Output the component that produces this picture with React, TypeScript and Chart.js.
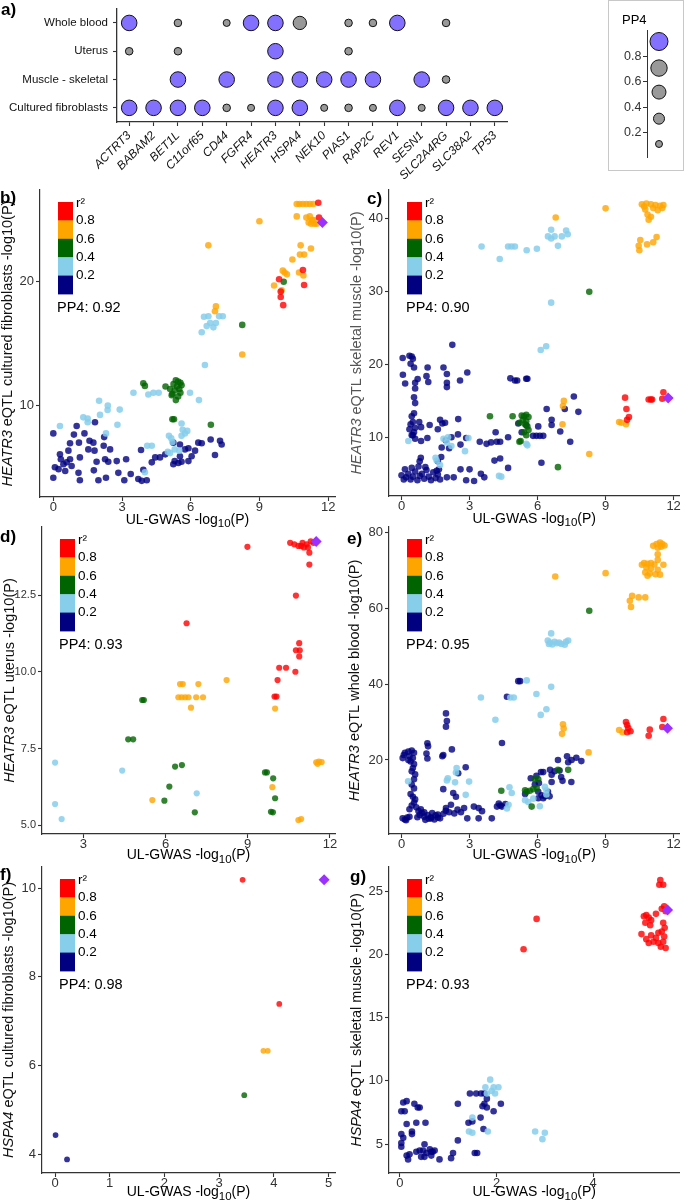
import React, { useEffect, useRef } from 'react';
import { Chart, registerables } from 'chart.js';

Chart.register(...registerables);

const FONT = 'Arial, "Liberation Sans", Helvetica, sans-serif';
Chart.defaults.font.family = FONT;
Chart.defaults.color = '#333';

type Pt = [number, number];

// ---------------- Panel a data ----------------
const genes = ['ACTRT3', 'BABAM2', 'BET1L', 'C11orf65', 'CD44', 'FGFR4', 'HEATR3', 'HSPA4', 'NEK10', 'PIAS1', 'RAP2C', 'REV1', 'SESN1', 'SLC2A4RG', 'SLC38A2', 'TP53'];
const tissues = ['Whole blood', 'Uterus', 'Muscle - skeletal', 'Cultured fibroblasts'];
const ppWholeBlood = [0.93, null, 0.27, null, 0.24, 0.93, 0.93, 0.7, null, 0.27, 0.27, 0.93, null, 0.27, null, null];
const ppUterus = [0.27, null, 0.27, null, null, null, 0.93, null, null, 0.27, null, null, null, null, null, null];
const ppMuscle = [null, null, 0.93, null, 0.93, null, 0.93, 0.93, 0.93, 0.93, 0.93, null, 0.93, 0.27, null, null];
const ppFibroblasts = [0.93, 0.93, 0.93, 0.93, 0.27, 0.24, 0.93, 0.93, 0.24, 0.27, 0.24, 0.93, 0.24, 0.93, 0.93, 0.93];
const ppRows = [ppWholeBlood, ppUterus, ppMuscle, ppFibroblasts];

// PP4 legend
const legendPP4 = [0.95, 0.8, 0.6, 0.4, 0.2];
const legendPos = [0.92, 0.71, 0.52, 0.31, 0.11];
const legendTicks = [0.2, 0.4, 0.6, 0.8];
const legendTickLabels = ['0.2', '0.4', '0.6', '0.8'];

// r2 legend
const r2Breaks = ['0.8', '0.6', '0.4', '0.2'];

// ---------------- Panel b ----------------
const bPurple: Pt[] = [[11.75, 24.8]];
const bRed: Pt[] = [[11.57, 26.4], [11.6, 25.2], [10.9, 20.95], [9.86, 20.2], [10.95, 19.73], [9.93, 19.2], [9.93, 18.76], [10.04, 18.1]];
const bOrange: Pt[] = [[10.63, 26.3], [10.75, 26.3], [10.9, 26.3], [11.05, 26.3], [11.2, 26.3], [11.35, 26.3], [9.0, 24.9], [10.63, 25.3], [11.05, 25.2], [11.2, 25.3], [11.3, 25.0], [11.15, 24.8], [11.4, 24.7], [11.25, 24.7], [11.5, 24.7], [11.35, 25.0], [6.77, 22.95], [10.8, 22.95], [11.25, 22.7], [10.77, 22.2], [10.95, 22.2], [10.44, 21.8], [10.02, 20.9], [10.1, 20.75], [10.2, 20.6], [10.73, 20.75], [10.92, 20.5], [9.64, 19.7], [9.97, 19.3], [7.1, 18.0], [7.06, 17.6], [8.25, 14.1]];
const bGreen: Pt[] = [[10.06, 20.0], [8.25, 16.5], [5.35, 12.0], [5.45, 11.9], [5.55, 11.8], [5.25, 11.7], [5.4, 11.5], [5.5, 11.3], [5.3, 11.2], [5.6, 11.6], [5.2, 10.9], [5.45, 10.7], [5.35, 10.4], [5.55, 11.0], [5.1, 11.3], [3.93, 11.76], [4.0, 11.55], [4.9, 11.5], [5.17, 10.8], [5.2, 8.85], [5.27, 8.85], [6.88, 8.4]];
const bSky: Pt[] = [[6.58, 17.16], [6.77, 17.2], [7.24, 17.2], [7.4, 17.2], [6.48, 15.9], [6.7, 16.4], [6.85, 16.65], [7.1, 16.65], [6.99, 16.3], [6.62, 13.25], [3.5, 11.0], [4.15, 10.85], [4.37, 11.0], [4.6, 11.0], [5.97, 11.0], [6.36, 10.4], [2.0, 10.35], [2.38, 9.95], [2.04, 9.2], [2.37, 9.6], [2.9, 9.63], [1.31, 9.0], [1.5, 8.9], [1.5, 8.6], [0.29, 8.3], [2.8, 8.4], [2.3, 7.7], [5.05, 7.5], [5.15, 7.3], [5.2, 7.0], [5.5, 6.3], [5.3, 6.4], [5.0, 6.2], [5.1, 6.1], [5.6, 8.5], [5.65, 8.0], [5.75, 7.7], [5.85, 7.9], [5.6, 7.5], [4.1, 6.7], [4.3, 6.7], [4.0, 4.55]];
const bNavy: Pt[] = [[0.0, 7.7], [1.02, 8.3], [1.82, 8.6], [2.22, 7.4], [1.36, 7.7], [0.9, 7.6], [0.73, 6.9], [1.12, 6.95], [1.58, 7.1], [1.75, 6.95], [1.53, 6.4], [1.8, 6.3], [2.48, 6.4], [2.2, 6.7], [0.66, 6.3], [0.29, 6.0], [0.33, 5.6], [0.73, 5.6], [0.58, 5.35], [0.44, 5.2], [0.07, 4.95], [0.0, 4.1], [0.23, 4.8], [0.52, 4.65], [0.8, 5.05], [1.16, 5.75], [1.1, 4.5], [1.16, 3.9], [1.89, 5.4], [1.77, 4.7], [1.97, 3.9], [2.26, 5.6], [2.4, 5.4], [2.3, 4.1], [2.77, 5.45], [3.18, 5.6], [2.84, 4.5], [3.1, 3.9], [3.38, 4.4], [3.71, 4.0], [3.86, 3.85], [4.08, 3.9], [3.93, 4.75], [3.83, 6.35], [4.3, 5.35], [4.45, 5.75], [4.66, 5.75], [4.89, 6.0], [5.24, 6.95], [5.53, 6.8], [5.53, 5.85], [5.3, 5.45], [5.6, 5.4], [5.9, 5.45], [6.04, 5.85], [5.9, 6.5], [6.33, 6.95], [6.48, 6.9], [6.19, 6.3], [6.87, 7.2], [7.28, 7.1], [7.35, 6.8], [7.06, 5.95], [5.75, 6.4], [5.46, 5.3], [5.24, 5.2]];

// ---------------- Panel c ----------------
const cPurple: Pt[] = [[11.76, 15.4]];
const cRed: Pt[] = [[9.86, 15.45], [9.92, 13.9], [10.03, 12.8], [9.95, 12.4], [10.9, 15.2], [11.0, 15.2], [11.05, 15.2], [11.55, 16.2], [11.5, 15.3]];
const cOrange: Pt[] = [[10.6, 42.0], [10.8, 42.1], [11.0, 42.0], [11.2, 41.9], [11.4, 41.8], [11.55, 41.9], [10.75, 41.3], [11.1, 41.5], [11.3, 41.2], [10.85, 40.6], [11.0, 40.3], [10.9, 39.9], [11.5, 41.5], [10.7, 41.7], [9.0, 41.45], [6.8, 40.2], [11.25, 37.5], [10.53, 37.1], [10.46, 36.3], [10.83, 36.5], [11.1, 36.8], [10.49, 35.7], [7.12, 14.3], [7.16, 15.0], [7.1, 11.8], [8.28, 7.7], [9.6, 12.1], [9.7, 12.0], [9.9, 11.8]];
const cGreen: Pt[] = [[8.28, 30.0], [5.3, 13.0], [5.4, 12.9], [5.5, 13.1], [5.6, 12.8], [5.35, 12.4], [5.5, 12.2], [5.45, 11.8], [5.55, 11.5], [5.6, 11.0], [5.4, 10.7], [5.5, 10.3], [5.2, 12.0], [5.25, 9.5], [5.2, 9.4], [3.9, 12.9], [4.9, 12.9], [6.9, 5.9]];
const cSky: Pt[] = [[6.6, 38.5], [6.75, 37.6], [6.46, 37.6], [7.07, 37.6], [7.26, 38.4], [7.33, 37.9], [6.6, 37.3], [6.9, 36.3], [3.53, 36.2], [4.7, 36.2], [4.85, 36.2], [5.0, 36.2], [5.52, 35.7], [5.97, 35.9], [4.33, 34.5], [6.6, 28.5], [6.14, 22.0], [6.38, 22.5], [0.3, 9.5], [1.5, 7.2], [1.55, 6.8], [1.7, 6.2], [1.85, 9.8], [2.0, 9.3], [2.2, 8.8], [2.8, 8.1], [2.95, 9.9], [2.05, 10.0], [4.3, 4.7], [4.4, 4.6], [5.55, 8.9], [5.5, 9.1]];
const cNavy: Pt[] = [[0.35, 21.2], [0.45, 21.1], [0.5, 20.8], [0.4, 20.1], [0.55, 19.6], [0.6, 17.5], [0.6, 16.7], [0.55, 15.5], [0.6, 14.7], [0.55, 13.3], [0.45, 12.9], [0.5, 12.1], [0.4, 11.8], [0.6, 11.3], [0.55, 10.7], [0.45, 10.3], [0.6, 9.8], [0.05, 20.9], [0.06, 18.6], [0.16, 17.4], [0.71, 18.0], [1.15, 19.6], [1.1, 18.4], [1.18, 17.6], [1.85, 19.6], [2.0, 18.7], [2.0, 17.5], [2.0, 16.9], [2.58, 17.8], [2.9, 18.9], [2.24, 22.7], [4.8, 18.1], [5.0, 17.8], [5.1, 17.8], [5.5, 18.05], [5.55, 18.05], [6.4, 13.9], [6.62, 12.4], [7.2, 13.9], [7.6, 15.6], [7.8, 13.5], [7.0, 10.8], [7.44, 9.4], [6.62, 11.7], [6.03, 11.5], [5.8, 10.2], [5.95, 10.2], [6.1, 10.2], [6.25, 10.2], [6.17, 6.5], [5.15, 11.9], [5.5, 11.65], [5.3, 10.7], [4.15, 10.7], [4.2, 9.4], [3.95, 9.3], [4.35, 9.4], [4.7, 10.0], [3.45, 9.4], [3.75, 9.1], [4.1, 6.8], [4.35, 7.1], [4.7, 5.8], [2.85, 9.9], [2.49, 10.4], [2.2, 10.0], [1.95, 9.6], [1.77, 8.6], [2.1, 8.5], [2.6, 9.0], [1.24, 11.7], [1.7, 12.4], [1.8, 11.9], [1.92, 12.0], [1.6, 11.1], [2.5, 12.5], [0.78, 12.1], [0.86, 11.4], [0.35, 11.1], [0.5, 10.3], [0.86, 9.5], [1.14, 9.9], [0.0, 4.8], [0.1, 4.2], [0.2, 4.5], [0.3, 5.0], [0.4, 4.2], [0.5, 4.6], [0.6, 5.3], [0.7, 4.1], [0.8, 4.7], [0.9, 5.0], [1.0, 4.3], [1.1, 5.5], [1.2, 4.6], [1.3, 4.1], [1.4, 5.2], [1.5, 4.4], [1.6, 4.9], [1.7, 4.2], [0.15, 5.6], [0.45, 5.8], [0.75, 6.0], [1.05, 5.9], [1.55, 5.4], [2.0, 4.5], [2.3, 4.5], [2.85, 4.1], [3.2, 4.0], [3.5, 5.0], [3.65, 4.5], [2.6, 5.6], [3.0, 5.6], [0.8, 6.7], [0.85, 7.2], [1.6, 6.7], [1.75, 7.3], [1.65, 5.6]];

// ---------------- Panel d ----------------
const dPurple: Pt[] = [[11.5, 14.24]];
const dRed: Pt[] = [[10.55, 14.2], [10.7, 14.15], [10.85, 14.1], [11.0, 14.2], [11.15, 14.15], [11.3, 14.25], [11.4, 14.2], [11.05, 14.05], [11.2, 14.05], [10.95, 14.1], [11.25, 13.88], [11.25, 13.49], [8.99, 14.07], [10.76, 12.48], [6.77, 11.58], [10.88, 10.93], [10.76, 10.7], [10.9, 10.7], [10.88, 10.5], [10.15, 10.13], [10.4, 10.13], [10.74, 10.0], [10.09, 9.73], [9.98, 9.19], [10.05, 9.19]];
const dOrange: Pt[] = [[10.0, 8.8], [8.23, 9.73], [6.53, 9.6], [6.63, 9.6], [7.2, 9.6], [6.47, 9.17], [6.59, 9.17], [6.72, 9.17], [6.84, 9.17], [7.12, 9.17], [7.37, 9.17], [6.93, 8.83], [9.9, 6.24], [11.5, 7.05], [11.6, 7.07], [11.7, 7.06], [11.55, 7.0], [5.52, 5.82], [10.85, 5.17], [10.95, 5.2]];
const dGreen: Pt[] = [[5.21, 9.08], [5.15, 9.08], [4.64, 7.8], [4.82, 7.8], [6.35, 6.91], [6.6, 6.96], [6.14, 6.26], [9.63, 6.72], [9.7, 6.72], [9.93, 6.53], [10.0, 5.88], [5.96, 5.8], [7.07, 5.42], [9.85, 5.44], [9.92, 5.42]];
const dSky: Pt[] = [[1.97, 7.04], [4.42, 6.78], [7.14, 6.04], [1.97, 5.69], [2.21, 5.2]];
const dNavy: Pt[] = [];

// ---------------- Panel e ----------------
const ePurple: Pt[] = [[11.73, 28.4]];
const eRed: Pt[] = [[9.9, 30.0], [9.95, 29.2], [10.0, 28.4], [9.95, 27.3], [10.1, 27.6], [10.9, 26.4], [10.95, 28.0], [11.55, 30.8], [11.5, 28.7]];
const eOrange: Pt[] = [[11.1, 76.5], [11.25, 77.0], [11.4, 77.4], [11.5, 77.0], [11.6, 76.6], [11.45, 76.3], [11.3, 76.0], [11.3, 74.3], [11.3, 72.8], [10.6, 71.5], [10.7, 72.0], [10.85, 71.8], [11.0, 72.0], [11.15, 71.6], [10.8, 70.8], [11.0, 70.5], [10.75, 69.5], [10.95, 69.2], [11.2, 69.0], [11.4, 68.9], [11.55, 71.5], [11.3, 70.2], [10.85, 68.6], [9.0, 69.3], [6.78, 68.4], [10.07, 62.0], [10.17, 63.3], [10.46, 62.9], [10.75, 62.9], [10.12, 60.4], [7.12, 29.4], [7.15, 28.3], [7.08, 26.9], [8.25, 22.0], [9.6, 27.9], [9.75, 27.3]];
const eGreen: Pt[] = [[8.28, 59.4], [6.9, 17.4], [7.35, 17.4], [5.88, 14.9], [6.03, 14.9], [5.81, 12.3], [5.96, 12.6], [5.66, 11.9], [5.74, 7.7], [5.52, 11.6], [4.4, 11.9], [5.45, 12.0]];
const eSky: Pt[] = [[6.6, 53.4], [6.45, 51.5], [6.55, 51.0], [6.65, 50.5], [6.75, 51.2], [6.85, 50.8], [6.95, 51.0], [7.05, 50.6], [7.25, 51.2], [7.35, 51.5], [7.2, 50.4], [6.5, 50.6], [6.6, 39.3], [5.52, 41.0], [4.8, 36.5], [4.95, 36.5], [3.5, 36.5], [5.95, 37.4], [6.39, 33.4], [6.14, 31.9], [4.14, 30.6], [2.43, 17.9], [2.4, 16.7], [2.04, 15.2], [2.0, 14.6], [2.36, 14.1], [2.98, 14.3], [2.83, 10.8], [0.29, 14.4], [4.65, 7.2], [4.72, 8.2], [4.86, 11.3], [4.76, 12.8], [5.45, 9.4], [5.59, 8.9], [5.81, 9.8], [6.1, 7.8], [6.39, 12.0], [6.32, 12.9], [6.39, 10.9]];
const eNavy: Pt[] = [[5.23, 40.8], [5.15, 40.8], [4.65, 36.7], [4.43, 24.5], [1.96, 32.3], [2.0, 30.3], [1.96, 28.8], [1.14, 24.4], [1.17, 23.6], [1.1, 21.7], [1.14, 20.4], [2.22, 22.8], [1.8, 21.0], [1.84, 21.3], [0.05, 20.5], [0.1, 21.3], [0.15, 21.9], [0.3, 22.2], [0.45, 22.5], [0.55, 21.9], [0.35, 21.0], [0.5, 20.5], [0.4, 19.6], [0.55, 18.9], [0.5, 17.9], [0.45, 17.0], [0.6, 16.2], [0.3, 20.0], [2.83, 18.1], [2.5, 16.5], [6.9, 20.0], [7.3, 21.0], [7.5, 20.0], [6.55, 17.4], [6.15, 16.8], [6.25, 16.8], [5.95, 15.8], [5.7, 15.2], [7.1, 14.5], [0.05, 4.6], [0.15, 4.3], [0.25, 4.8], [0.2, 4.1], [0.35, 5.0], [0.45, 8.0], [0.55, 8.8], [0.6, 9.6], [0.5, 10.3], [0.4, 11.0], [0.55, 12.5], [0.45, 13.5], [0.55, 14.9], [0.35, 7.0], [0.65, 7.5], [0.75, 6.5], [0.8, 5.5], [0.9, 6.0], [1.0, 5.0], [0.7, 4.9], [0.85, 7.0], [1.0, 6.2], [1.15, 5.5], [1.3, 4.9], [1.45, 4.3], [1.6, 4.8], [1.2, 4.5], [1.05, 4.2], [1.35, 6.0], [1.5, 5.4], [1.7, 4.6], [1.85, 5.8], [1.95, 6.6], [1.84, 12.3], [2.28, 11.3], [2.4, 10.3], [1.96, 7.3], [2.18, 8.2], [2.47, 6.9], [2.76, 7.3], [2.9, 4.6], [3.19, 7.7], [3.4, 7.3], [3.55, 6.5], [2.33, 5.9], [2.62, 6.2], [3.4, 4.6], [3.98, 4.6], [2.1, 6.2], [1.6, 5.6], [1.3, 4.6], [4.29, 8.5], [4.36, 8.0], [4.43, 7.7], [4.21, 7.7], [4.58, 8.4], [5.45, 11.0], [6.03, 11.6], [6.18, 10.7], [6.32, 10.4], [6.53, 10.4], [6.46, 11.6], [6.03, 9.9], [6.25, 9.9], [5.88, 13.5], [6.06, 13.9], [6.62, 16.1], [6.75, 17.0], [6.97, 17.2], [7.04, 15.5], [6.62, 14.2], [7.49, 14.2], [7.35, 19.4], [7.71, 20.6], [7.93, 19.7]];

// ---------------- Panel f ----------------
const fPurple: Pt[] = [[4.92, 10.19]];
const fRed: Pt[] = [[3.43, 10.19], [4.1, 7.39]];
const fOrange: Pt[] = [[3.81, 6.33], [3.89, 6.33]];
const fGreen: Pt[] = [[3.46, 5.33]];
const fSky: Pt[] = [];
const fNavy: Pt[] = [[0.01, 4.43], [0.22, 3.88]];

// ---------------- Panel g ----------------
const gPurple: Pt[] = [[5.54, 23.5]];
const gRed: Pt[] = [[5.39, 25.87], [5.37, 25.5], [5.45, 25.5], [5.05, 23.0], [5.1, 23.1], [5.15, 22.9], [5.2, 22.7], [5.08, 22.5], [5.18, 22.3], [5.3, 23.2], [5.42, 23.6], [5.47, 23.8], [5.5, 23.4], [5.45, 22.5], [5.48, 22.1], [5.0, 21.6], [5.1, 21.2], [5.15, 20.9], [5.25, 21.0], [5.3, 21.3], [5.35, 20.9], [5.4, 20.6], [5.45, 21.0], [5.5, 20.5], [5.42, 21.8], [5.2, 21.5], [5.35, 21.7], [5.47, 21.4], [2.83, 22.8], [2.56, 20.4]];
const gOrange: Pt[] = [];
const gGreen: Pt[] = [];
const gSky: Pt[] = [[1.87, 10.1], [1.94, 9.5], [2.04, 9.5], [1.97, 9.0], [1.77, 9.5], [1.8, 9.0], [1.5, 5.9], [1.43, 6.0], [1.82, 6.0], [1.5, 7.1], [2.8, 6.0], [3.0, 5.9], [2.95, 5.4], [1.9, 9.2]];
const gNavy: Pt[] = [[1.45, 9.0], [1.58, 9.0], [1.68, 9.0], [1.75, 9.0], [1.8, 8.6], [1.75, 8.2], [1.8, 7.9], [1.71, 8.0], [1.94, 7.6], [2.09, 8.2], [1.67, 7.1], [1.5, 6.8], [1.42, 6.7], [1.73, 6.2], [1.2, 8.2], [1.2, 5.3], [1.1, 4.3], [1.06, 3.9], [0.82, 3.8], [0.65, 4.4], [0.03, 7.6], [0.1, 7.6], [0.07, 8.3], [0.14, 8.4], [0.3, 8.2], [0.37, 7.9], [0.41, 7.9], [0.14, 6.6], [0.34, 6.7], [0.53, 6.7], [0.25, 6.0], [0.25, 5.8], [0.03, 5.8], [0.07, 5.5], [0.03, 5.1], [0.03, 4.8], [0.41, 4.5], [0.48, 4.5], [0.51, 5.0], [0.55, 4.3], [0.62, 4.6], [0.68, 4.4], [0.72, 4.5], [0.65, 4.1], [0.14, 4.1], [0.17, 3.8], [0.2, 4.2], [0.34, 4.4], [0.51, 4.0], [0.44, 4.0], [1.55, 4.3], [1.6, 4.3]];

// ---------------- styles ----------------
const PURPLE_BUBBLE = '#8470FF';
const GRAY_BUBBLE = '#999999';
const AXIS = '#333333';
const TICK = '#333333';
const SERIES_ORDER = ['purple', 'red', 'orange', 'green', 'sky', 'navy'];
const POINT_COLORS: Record<string, string> = {
  purple: '#9B30FF',
  red: 'rgba(255,0,0,0.8)',
  orange: 'rgba(255,165,0,0.8)',
  green: 'rgba(0,100,0,0.8)',
  sky: 'rgba(135,206,235,0.85)',
  navy: 'rgba(0,0,128,0.8)',
};
const LEGEND_COLORS = ['#FF0000', '#FFA500', '#006400', '#87CEEB', '#000080'];

const sizeA = (p: number) => Math.sqrt(70 * p - 4.5);
const sizeL = (p: number) => Math.sqrt(91.7 * p - 6.1);

function zeroPad(s: any) {
  s.paddingLeft = 0; s.paddingRight = 0; s.paddingTop = 0; s.paddingBottom = 0;
}

interface Spec {
  id: string;
  canvas: { x: number; y: number; w: number; h: number };
  area: { l: number; t: number; r: number; b: number };
  xMin: number; xMax: number; xTicks: number[]; xLabels: string[];
  yMin: number; yMax: number; yTicks: number[]; yLabels: string[]; yTickSize: number;
  gene: string; tissue: string; pp4: string; yTitleColor: string;
  series: Record<string, Pt[]>; radius: number; xTitleOff: number; yTitleOff: number;
}

const PANELS: Spec[] = [
  {
    id: 'b', canvas: { x: 0, y: 180, w: 342, h: 355 }, area: { l: 40, t: 190, r: 335, b: 497 },
    xMin: -0.581, xMax: 12.3, xTicks: [0, 3, 6, 9, 12], xLabels: ['0', '3', '6', '9', '12'],
    yMin: 2.54, yMax: 27.44, yTicks: [10, 20], yLabels: ['10', '20'], yTickSize: 13,
    gene: 'HEATR3', tissue: 'cultured fibroblasts', pp4: '0.92', yTitleColor: '#111',
    series: { purple: bPurple, red: bRed, orange: bOrange, green: bGreen, sky: bSky, navy: bNavy }, radius: 3.3, xTitleOff: 26.5, yTitleOff: 32,
  },
  {
    id: 'c', canvas: { x: 342, y: 180, w: 343, h: 355 }, area: { l: 389, t: 190, r: 683, b: 496 },
    xMin: -0.553, xMax: 12.26, xTicks: [0, 3, 6, 9, 12], xLabels: ['0', '3', '6', '9', '12'],
    yMin: 1.94, yMax: 43.97, yTicks: [10, 20, 30, 40], yLabels: ['10', '20', '30', '40'], yTickSize: 13,
    gene: 'HEATR3', tissue: 'skeletal muscle', pp4: '0.90', yTitleColor: '#555',
    series: { purple: cPurple, red: cRed, orange: cOrange, green: cGreen, sky: cSky, navy: cNavy }, radius: 3.3, xTitleOff: 26.5, yTitleOff: 32,
  },
  {
    id: 'd', canvas: { x: 0, y: 517, w: 342, h: 355 }, area: { l: 42, t: 527, r: 335, b: 834 },
    xMin: 1.493, xMax: 12.186, xTicks: [3, 6, 9, 12], xLabels: ['3', '6', '9', '12'],
    yMin: 4.715, yMax: 14.715, yTicks: [5, 7.5, 10, 12.5], yLabels: ['5.0', '7.5', '10.0', '12.5'], yTickSize: 11,
    gene: 'HEATR3', tissue: 'uterus', pp4: '0.93', yTitleColor: '#111',
    series: { purple: dPurple, red: dRed, orange: dOrange, green: dGreen, sky: dSky, navy: dNavy }, radius: 3.1, xTitleOff: 25, yTitleOff: 32,
  },
  {
    id: 'e', canvas: { x: 342, y: 517, w: 343, h: 355 }, area: { l: 389, t: 527, r: 683, b: 834 },
    xMin: -0.553, xMax: 12.26, xTicks: [0, 3, 6, 9, 12], xLabels: ['0', '3', '6', '9', '12'],
    yMin: 0.47, yMax: 81.48, yTicks: [20, 40, 60, 80], yLabels: ['20', '40', '60', '80'], yTickSize: 13,
    gene: 'HEATR3', tissue: 'whole blood', pp4: '0.95', yTitleColor: '#111',
    series: { purple: ePurple, red: eRed, orange: eOrange, green: eGreen, sky: eSky, navy: eNavy }, radius: 3.3, xTitleOff: 25, yTitleOff: 34,
  },
  {
    id: 'f', canvas: { x: 0, y: 857, w: 342, h: 346 }, area: { l: 42, t: 867, r: 335, b: 1173 },
    xMin: -0.238, xMax: 5.119, xTicks: [0, 1, 2, 3, 4, 5], xLabels: ['0', '1', '2', '3', '4', '5'],
    yMin: 3.573, yMax: 10.48, yTicks: [4, 6, 8, 10], yLabels: ['4', '6', '8', '10'], yTickSize: 13,
    gene: 'HSPA4', tissue: 'cultured fibroblasts', pp4: '0.98', yTitleColor: '#111',
    series: { purple: fPurple, red: fRed, orange: fOrange, green: fGreen, sky: fSky, navy: fNavy }, radius: 2.9, xTitleOff: 23, yTitleOff: 33,
  },
  {
    id: 'g', canvas: { x: 342, y: 857, w: 343, h: 346 }, area: { l: 389, t: 867, r: 683, b: 1173 },
    xMin: -0.225, xMax: 5.787, xTicks: [0, 2, 4], xLabels: ['0', '2', '4'],
    yMin: 2.725, yMax: 26.9, yTicks: [5, 10, 15, 20, 25], yLabels: ['5', '10', '15', '20', '25'], yTickSize: 13,
    gene: 'HSPA4', tissue: 'skeletal muscle', pp4: '0.93', yTitleColor: '#111',
    series: { purple: gPurple, red: gRed, orange: gOrange, green: gGreen, sky: gSky, navy: gNavy }, radius: 3.3, xTitleOff: 23, yTitleOff: 32,
  },
];

const PANEL_LABELS = [
  { t: 'a)', x: 1, y: 1 },
  { t: 'b)', x: 0, y: 189 },
  { t: 'c)', x: 367, y: 190 },
  { t: 'd)', x: 0, y: 528 },
  { t: 'e)', x: 347, y: 530 },
  { t: 'f)', x: 0, y: 866 },
  { t: 'g)', x: 350, y: 868 },
];

function linAxis(min: number, max: number, ticks: number[], labels: string[], fit: number, isX: boolean, size: number) {
  return {
    type: 'linear', min, max, bounds: 'data',
    afterBuildTicks: (s: any) => { s.ticks = ticks.map((v) => ({ value: v })); },
    afterFit: (s: any) => { if (isX) s.height = fit; else s.width = fit; zeroPad(s); },
    grid: { display: true, drawOnChartArea: false, drawTicks: true, tickLength: 4, tickColor: AXIS, tickWidth: 1.1 },
    border: { display: true, color: AXIS, width: 1.2 },
    ticks: {
      autoSkip: false, maxRotation: 0, minRotation: 0, color: TICK, padding: isX ? 0 : 2,
      font: { size, lineHeight: 1 }, callback: (_v: any, i: number) => labels[i],
    },
  };
}

function makeDecor(spec: Spec) {
  return {
    id: 'decor' + spec.id,
    afterDraw(chart: any) {
      const ctx = chart.ctx as CanvasRenderingContext2D;
      const a = chart.chartArea;
      ctx.save();
      // r2 colour legend
      const bx = a.left + 18, by = a.top + 12, bw = 15, bh = 18.4;
      LEGEND_COLORS.forEach((c, i) => { ctx.fillStyle = c; ctx.fillRect(bx, by + i * bh, bw, bh + 0.4); });
      ctx.fillStyle = '#000';
      ctx.textAlign = 'left';
      ctx.textBaseline = 'middle';
      ctx.font = `13.5px ${FONT}`;
      ctx.fillText('r²', bx + bw + 3, by + 1);
      r2Breaks.forEach((t, i) => ctx.fillText(t, bx + bw + 3, by + (i + 1) * bh));
      ctx.font = `14.5px ${FONT}`;
      ctx.fillText(`PP4: ${spec.pp4}`, bx - 1, by + 5 * bh + 13.5);
      // x title
      const cx = (a.left + a.right) / 2;
      const base = a.bottom + spec.xTitleOff;
      ctx.textBaseline = 'alphabetic';
      ctx.font = `14px ${FONT}`;
      const p1 = 'UL-GWAS -log', p3 = '(P)', p2 = '10';
      const w1 = ctx.measureText(p1).width, w3 = ctx.measureText(p3).width;
      ctx.font = `11.5px ${FONT}`;
      const w2 = ctx.measureText(p2).width;
      let x = cx - (w1 + w2 + w3) / 2;
      ctx.font = `14px ${FONT}`;
      ctx.fillText(p1, x, base); x += w1;
      ctx.font = `11.5px ${FONT}`;
      ctx.fillText(p2, x, base + 3.5); x += w2;
      ctx.font = `14px ${FONT}`;
      ctx.fillText(p3, x, base);
      // y title
      ctx.translate(a.left - spec.yTitleOff, (a.top + a.bottom) / 2);
      ctx.rotate(-Math.PI / 2);
      ctx.textBaseline = 'middle';
      ctx.fillStyle = spec.yTitleColor;
      const rest = ` eQTL ${spec.tissue} -log10(P)`;
      ctx.font = `italic 14.5px ${FONT}`;
      const wg = ctx.measureText(spec.gene).width;
      ctx.font = `14.5px ${FONT}`;
      const wr = ctx.measureText(rest).width;
      const s0 = -(wg + wr) / 2;
      ctx.font = `italic 14.5px ${FONT}`;
      ctx.fillText(spec.gene, s0, 0);
      ctx.font = `14.5px ${FONT}`;
      ctx.fillText(rest, s0 + wg, 0);
      ctx.restore();
    },
  };
}

function ScatterPanel({ spec }: { spec: Spec }) {
  const ref = useRef<HTMLCanvasElement>(null);
  useEffect(() => {
    const { canvas: cv, area } = spec;
    const datasets = SERIES_ORDER.map((k) => ({
      label: k,
      data: (spec.series[k] || []).map(([x, y]) => ({ x, y })),
      backgroundColor: POINT_COLORS[k],
      borderWidth: 0,
      pointRadius: k === 'purple' ? 5.5 : spec.radius,
      pointStyle: k === 'purple' ? 'rectRot' : 'circle',
    }));
    const chart = new Chart(ref.current as HTMLCanvasElement, {
      type: 'scatter',
      data: { datasets } as any,
      options: {
        responsive: false, animation: false, events: [], devicePixelRatio: 1,
        layout: { padding: { left: 0, top: area.t - cv.y, right: cv.x + cv.w - area.r, bottom: 0 } },
        plugins: { legend: { display: false }, tooltip: { enabled: false } },
        scales: {
          x: linAxis(spec.xMin, spec.xMax, spec.xTicks, spec.xLabels, cv.y + cv.h - area.b, true, 13),
          y: linAxis(spec.yMin, spec.yMax, spec.yTicks, spec.yLabels, area.l - cv.x, false, spec.yTickSize),
        } as any,
      },
      plugins: [makeDecor(spec)],
    });
    return () => chart.destroy();
  }, []);
  const c = spec.canvas;
  return <canvas ref={ref} width={c.w} height={c.h} style={{ position: 'absolute', left: c.x, top: c.y, width: c.w, height: c.h }} />;
}

function DotPlot() {
  const ref = useRef<HTMLCanvasElement>(null);
  const W = 520, H = 190;
  const area = { l: 117, t: 2, r: 507, b: 122 };
  useEffect(() => {
    const purple: any[] = [];
    const gray: any[] = [];
    ppRows.forEach((row, ti) => {
      row.forEach((p, gi) => {
        if (p === null) return;
        const pt = { x: genes[gi], y: tissues[ti], r: sizeA(p as number) };
        ((p as number) >= 0.8 ? purple : gray).push(pt);
      });
    });
    const catAxis = (labels: string[], isX: boolean) => ({
      type: 'category', labels, offset: true,
      afterFit: (s: any) => { if (isX) s.height = H - area.b; else s.width = area.l; zeroPad(s); },
      grid: { display: true, drawOnChartArea: false, drawTicks: true, tickLength: 4, tickColor: AXIS, tickWidth: 1.1, offset: false },
      border: { display: true, color: AXIS, width: 1.3 },
      ticks: isX
        ? { autoSkip: false, minRotation: 45, maxRotation: 45, color: '#111', padding: 3, font: { size: 12, style: 'italic', lineHeight: 1.1 } }
        : { autoSkip: false, color: '#111', padding: 5, font: { size: 11.5, lineHeight: 1 } },
    });
    const chart = new Chart(ref.current as HTMLCanvasElement, {
      type: 'bubble',
      data: {
        datasets: [
          { data: purple, backgroundColor: PURPLE_BUBBLE, borderColor: '#111', borderWidth: 1 },
          { data: gray, backgroundColor: GRAY_BUBBLE, borderColor: '#111', borderWidth: 1 },
        ],
      } as any,
      options: {
        responsive: false, animation: false, events: [], devicePixelRatio: 1,
        layout: { padding: { left: 0, top: area.t, right: W - area.r, bottom: 0 } },
        plugins: { legend: { display: false }, tooltip: { enabled: false } },
        scales: { x: catAxis(genes, true), y: catAxis(tissues, false) } as any,
      },
    });
    return () => chart.destroy();
  }, []);
  return <canvas ref={ref} width={W} height={H} style={{ position: 'absolute', left: 0, top: 0, width: W, height: H }} />;
}

function PP4Legend() {
  const ref = useRef<HTMLCanvasElement>(null);
  const W = 74, H = 169;
  const area = { l: 38, t: 29, r: 62, b: 156 };
  useEffect(() => {
    const pts = legendPP4.map((p, i) => ({ x: 0.5, y: legendPos[i], r: sizeL(p) }));
    const titlePlugin = {
      id: 'pp4title',
      afterDraw(chart: any) {
        const ctx = chart.ctx as CanvasRenderingContext2D;
        ctx.save();
        ctx.fillStyle = '#000';
        ctx.font = `13px ${FONT}`;
        ctx.textAlign = 'left';
        ctx.textBaseline = 'middle';
        ctx.fillText('PP4', 13, 19);
        ctx.restore();
      },
    };
    const chart = new Chart(ref.current as HTMLCanvasElement, {
      type: 'bubble',
      data: {
        datasets: [{
          data: pts,
          backgroundColor: legendPP4.map((p) => (p > 0.9 ? PURPLE_BUBBLE : GRAY_BUBBLE)),
          borderColor: '#111', borderWidth: 1,
        }],
      } as any,
      options: {
        responsive: false, animation: false, events: [], devicePixelRatio: 1,
        layout: { padding: { left: 0, top: area.t, right: W - area.r, bottom: H - area.b } },
        plugins: { legend: { display: false }, tooltip: { enabled: false } },
        scales: {
          x: { type: 'linear', min: 0, max: 1, display: false },
          y: {
            type: 'linear', min: 0.007, max: 1.011, bounds: 'data',
            afterBuildTicks: (s: any) => { s.ticks = legendTicks.map((v) => ({ value: v })); },
            afterFit: (s: any) => { s.width = area.l; zeroPad(s); },
            grid: { display: true, drawOnChartArea: false, drawTicks: true, tickLength: 4, tickColor: AXIS, tickWidth: 1 },
            border: { display: true, color: AXIS, width: 1 },
            ticks: { color: TICK, padding: 1.5, font: { size: 12.5, lineHeight: 1 }, callback: (_v: any, i: number) => legendTickLabels[i] },
          },
        } as any,
      },
      plugins: [titlePlugin],
    });
    return () => chart.destroy();
  }, []);
  return (
    <div style={{ position: 'absolute', left: 608, top: 0, width: W + 2, height: H + 2, border: '1px solid #c8c8c8', boxSizing: 'border-box' }}>
      <canvas ref={ref} width={W} height={H} style={{ position: 'absolute', left: 0, top: 0, width: W, height: H }} />
    </div>
  );
}

export default function App() {
  return (
    <div style={{ position: 'absolute', left: 0, top: 0, width: 685, height: 1203, overflow: 'hidden', background: '#fff', fontFamily: FONT }}>
      <DotPlot />
      <PP4Legend />
      {PANELS.map((p) => <ScatterPanel key={p.id} spec={p} />)}
      {PANEL_LABELS.map((l) => (
        <div key={l.t} style={{ position: 'absolute', left: l.x, top: l.y, fontWeight: 'bold', fontSize: 17, lineHeight: '17px', color: '#000' }}>{l.t}</div>
      ))}
    </div>
  );
}
